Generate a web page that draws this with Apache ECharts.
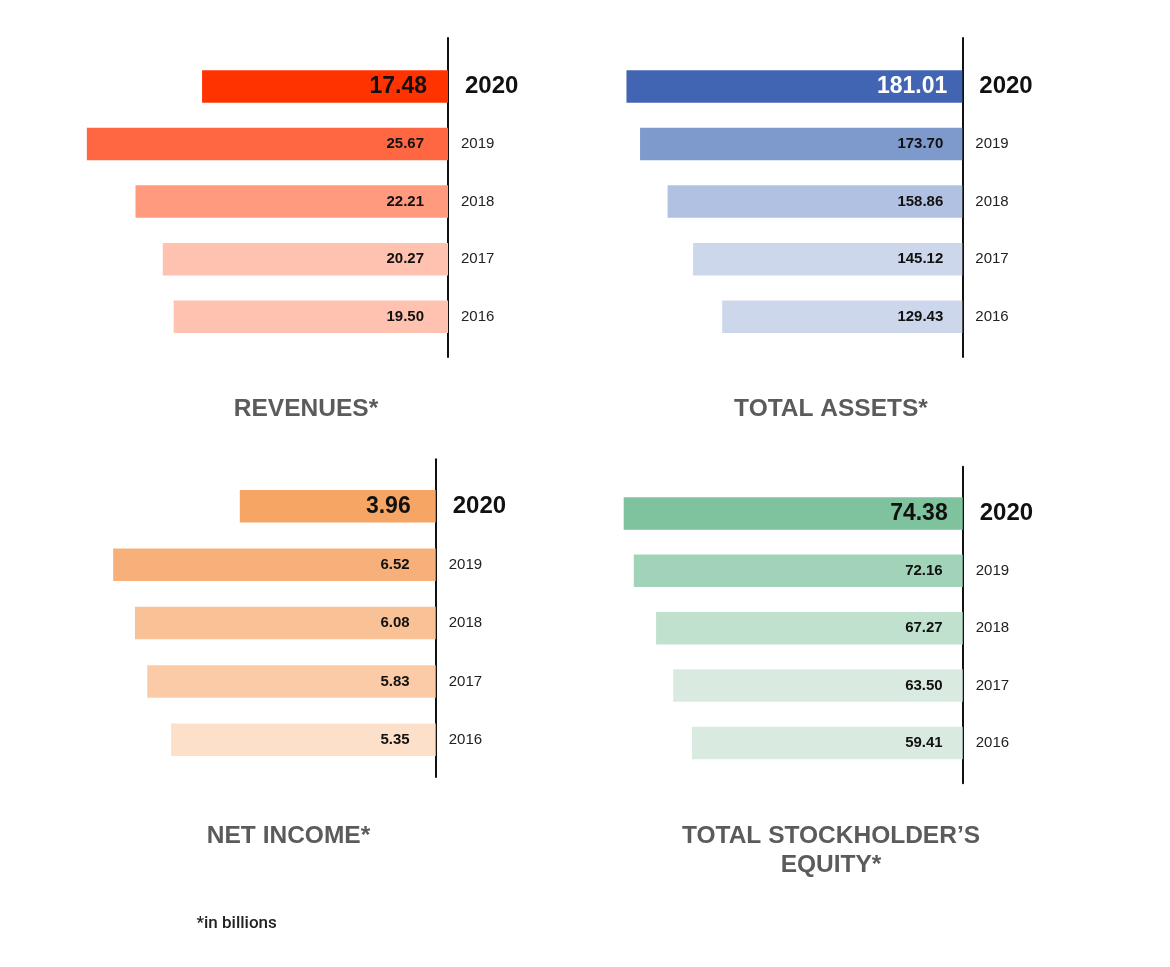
<!DOCTYPE html>
<html>
<head>
<meta charset="utf-8">
<script src="https://cdn.jsdelivr.net/npm/echarts@6/dist/echarts.min.js"></script>
<style>
html,body{margin:0;padding:0;background:#fff;}
#chart{width:1170px;height:967px;}
</style>
</head>
<body>
<div id="chart"></div>
<script>
// ---- data ----
const years = ['2020', '2019', '2018', '2017', '2016'];
const revenues = [17.48, 25.67, 22.21, 20.27, 19.50];
const totalAssets = [181.01, 173.70, 158.86, 145.12, 129.43];
const netIncome = [3.96, 6.52, 6.08, 5.83, 5.35];
const equity = [74.38, 72.16, 67.27, 63.50, 59.41];
const panelTitles = ['REVENUES*', 'TOTAL ASSETS*', 'NET INCOME*', 'TOTAL STOCKHOLDER\u2019S\nEQUITY*'];
const footnote = '*in billions';

// ---- styles / layout ----
const FONT = "'Liberation Sans', Arial, Helvetica, sans-serif";
const palettes = [
  ['#FF3300', '#FF6642', '#FF9A7E', '#FFC1B0', '#FFC1B0'],
  ['#4265B3', '#7E9ACD', '#B1C1E1', '#CDD7EC', '#CDD7EC'],
  ['#F7A565', '#F8B07A', '#F9C296', '#FACBA6', '#FCE0C9'],
  ['#7EC39E', '#A0D3B7', '#BFE1CD', '#D9EBE1', '#D9EBE1']
];
const panels = [
  {values: revenues, lineX: 448, top: 57.7, height: 287.8, max: 28.43, lineTop: 38, lineBottom: 357, bigDist: 21, smallDist: 24, bigColor: '#111'},
  {values: totalAssets, lineX: 962.3, top: 57.7, height: 287.8, max: 215.6, lineTop: 38, lineBottom: 357, bigDist: 15, smallDist: 19, bigColor: '#fff'},
  {values: netIncome, lineX: 435.7, top: 477.2, height: 291.7, max: 8.086, lineTop: 459.3, lineBottom: 777, bigDist: 25, smallDist: 26, bigColor: '#111'},
  {values: equity, lineX: 962.7, top: 484.7, height: 287, max: 87.76, lineTop: 466.7, lineBottom: 783.3, bigDist: 15, smallDist: 20, bigColor: '#111'}
];
const titlePos = [
  {x: 306, y: 394.5}, {x: 831, y: 394.5}, {x: 288.5, y: 821.5}, {x: 831, y: 821.5}
];
const W = 1170, H = 967, GRID_W = 400;

const grid = [], xAxis = [], yAxis = [], series = [];
panels.forEach((p, i) => {
  grid.push({left: p.lineX - GRID_W, width: GRID_W, top: p.top, height: p.height, containLabel: false});
  xAxis.push({gridIndex: i, type: 'value', inverse: true, min: 0, max: p.max, show: false});
  yAxis.push({
    gridIndex: i, type: 'category', data: years, inverse: true, position: 'right',
    axisLine: {show: false}, axisTick: {show: false}, splitLine: {show: false},
    axisLabel: {
      margin: 13,
      formatter: (v) => v === years[0] ? '{big|' + v + '}' : '{small|' + v + '}',
      rich: {
        big: {fontFamily: FONT, fontSize: 24, fontWeight: 'bold', color: '#111', padding: [0, 0, 0, 4]},
        small: {fontFamily: FONT, fontSize: 15, color: '#222'}
      }
    }
  });
  series.push({
    type: 'bar', xAxisIndex: i, yAxisIndex: i, barWidth: 32.5, silent: true,
    data: p.values.map((v, j) => ({
      value: v,
      itemStyle: {color: palettes[i][j]},
      label: j === 0
        ? {fontSize: 23, color: p.bigColor, distance: p.bigDist}
        : {fontSize: 15, color: '#111', distance: p.smallDist}
    })),
    label: {
      show: true, position: 'insideRight', fontFamily: FONT, fontWeight: 'bold',
      formatter: (d) => d.value.toFixed(2)
    }
  });
});
// vertical reference lines (axis lines of thin helper grids)
panels.forEach((p, i) => {
  const gi = panels.length + i;
  grid.push({left: p.lineX, width: 1, top: p.lineTop, height: p.lineBottom - p.lineTop});
  xAxis.push({gridIndex: gi, type: 'value', min: 0, max: 1, show: false});
  yAxis.push({
    gridIndex: gi, type: 'value', min: 0, max: 1, position: 'left',
    axisLine: {show: true, lineStyle: {color: '#111', width: 2}},
    axisTick: {show: false}, axisLabel: {show: false}, splitLine: {show: false}
  });
});

const graphic = [];
panelTitles.forEach((t, i) => {
  graphic.push({
    type: 'text', x: titlePos[i].x, y: titlePos[i].y,
    style: {
      text: t, fontFamily: FONT, fontSize: 24.5, fontWeight: 'bold', fill: '#5b5b5b',
      textAlign: 'center', textVerticalAlign: 'top', lineHeight: 29
    },
    silent: true
  });
});
graphic.push({
  type: 'text', x: 196.5, y: 924,
  style: {text: footnote, fontFamily: "Roboto, 'Liberation Sans', sans-serif", fontSize: 17, fontWeight: 500, fill: '#222', textAlign: 'left', textVerticalAlign: 'middle'},
  silent: true
});

const chart = echarts.init(document.getElementById('chart'), null, {renderer: 'canvas', width: W, height: H});
chart.setOption({
  backgroundColor: '#fff',
  animation: false,
  grid, xAxis, yAxis, series, graphic
});
</script>
</body>
</html>
